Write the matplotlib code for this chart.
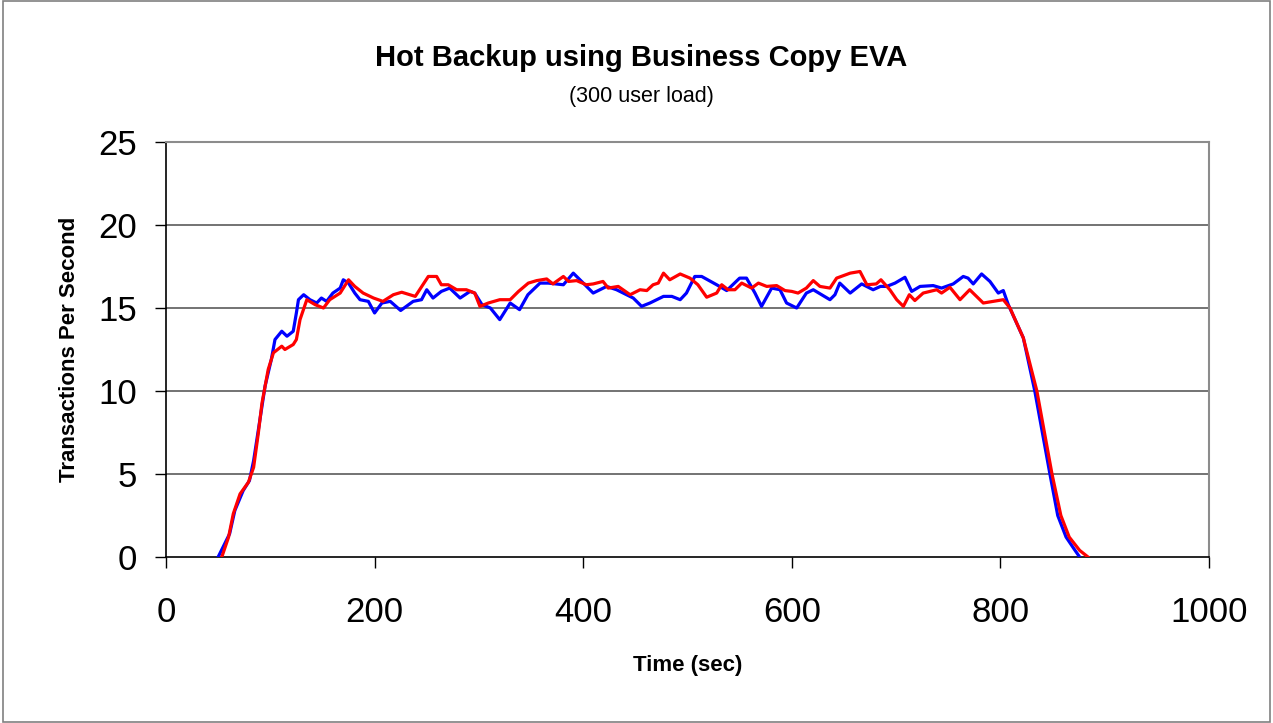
import matplotlib
matplotlib.use("Agg")
import matplotlib.pyplot as plt
from matplotlib.patches import Rectangle

plt.rcParams['font.family'] = ['Liberation Sans', 'DejaVu Sans']

# Blue run (time in sec, transactions per second)
blue_t = [50, 61, 66, 74, 80, 84, 90, 95, 101, 104.5, 111, 116, 122, 125, 127, 132,
          138, 144.5, 149, 154, 160, 167, 170, 175, 181, 186, 194, 200, 207, 215,
          225, 237, 245, 250, 256, 264, 272, 282, 291.5, 296, 303, 311, 320, 330,
          339, 347, 358.6, 366.5, 381, 390.5, 398.5, 409.6, 422.5, 432, 448, 456,
          464, 477, 485, 493, 499, 507, 513.6, 528, 537.6, 550, 556.6, 564.7, 571,
          580.7, 588.7, 595, 604.7, 614, 620.6, 628.6, 636.6, 641.4, 646, 656, 667,
          678, 685, 691, 699, 708.5, 715, 723, 735.6, 743.6, 754.8, 764.4, 769, 774,
          782, 790, 798, 802.8, 807.6, 822, 833, 847.5, 855, 863, 870.5, 876]
blue_tps = [0, 1.4, 2.8, 4.0, 4.6, 5.8, 8.25, 10.3, 11.9, 13.1, 13.6, 13.3, 13.6, 14.7,
            15.5, 15.8, 15.5, 15.3, 15.6, 15.4, 15.9, 16.2, 16.7, 16.5, 15.9, 15.5,
            15.4, 14.7, 15.3, 15.4, 14.85, 15.4, 15.5, 16.1, 15.6, 16.0, 16.2, 15.6,
            16.0, 15.9, 15.2, 15.0, 14.3, 15.3, 14.9, 15.8, 16.5, 16.5, 16.4, 17.1,
            16.6, 15.9, 16.3, 16.1, 15.6, 15.1, 15.3, 15.7, 15.7, 15.5, 15.9, 16.9,
            16.9, 16.4, 16.05, 16.8, 16.8, 15.9, 15.1, 16.2, 16.1, 15.3, 15.0, 15.9,
            16.1, 15.8, 15.5, 15.8, 16.5, 15.9, 16.45, 16.1, 16.3, 16.3, 16.5, 16.85,
            16.0, 16.3, 16.35, 16.2, 16.45, 16.9, 16.8, 16.45, 17.05, 16.6, 15.9,
            16.05, 15.2, 13.2, 10.0, 5.0, 2.5, 1.2, 0.5, 0]

# Red run
red_t = [53.5, 60, 64.5, 71, 79, 84, 88.5, 92, 98, 103, 111, 114, 122, 125, 128.5, 135,
         143, 151, 157, 167, 175, 181, 189, 199, 208, 218, 226, 239, 251.5, 259.5, 264,
         270.6, 278.7, 288, 296, 301, 309, 320, 330, 338, 347.4, 355.4, 365, 371, 381,
         386, 393.7, 403, 409.6, 419, 424, 433.6, 445, 454.5, 461, 467, 472, 477, 483,
         493, 502.4, 510, 518.4, 528, 532.8, 539, 545.5, 552, 561.5, 568, 576, 585.5,
         593.5, 600, 606, 614, 620.6, 627, 636.6, 643, 656, 665.4, 672, 681, 685.5,
         694, 700.6, 707, 712.7, 718, 726, 739, 743.6, 751.6, 761.3, 770.6, 783.6,
         793.2, 802.8, 809.2, 822, 835, 849.5, 858, 866, 876, 884]
red_tps = [0, 1.2, 2.6, 3.8, 4.5, 5.4, 7.45, 9.26, 11.3, 12.3, 12.7, 12.5, 12.8, 13.1,
           14.3, 15.5, 15.2, 15.0, 15.5, 15.9, 16.7, 16.3, 15.9, 15.6, 15.4, 15.8,
           15.95, 15.7, 16.9, 16.9, 16.4, 16.4, 16.1, 16.1, 15.9, 15.1, 15.3, 15.5,
           15.5, 16.0, 16.5, 16.65, 16.75, 16.45, 16.9, 16.6, 16.65, 16.4, 16.45, 16.6,
           16.2, 16.3, 15.8, 16.1, 16.05, 16.4, 16.5, 17.1, 16.7, 17.05, 16.8, 16.4,
           15.65, 15.9, 16.4, 16.1, 16.1, 16.5, 16.2, 16.5, 16.3, 16.35, 16.05, 16.0,
           15.9, 16.2, 16.65, 16.3, 16.2, 16.8, 17.1, 17.2, 16.4, 16.45, 16.7, 16.1,
           15.5, 15.1, 15.8, 15.45, 15.9, 16.1, 15.9, 16.25, 15.5, 16.1, 15.3, 15.4,
           15.5, 15.0, 13.2, 10.0, 5.0, 2.5, 1.2, 0.4, 0]

x_ticks = [0, 200, 400, 600, 800, 1000]
y_ticks = [0, 5, 10, 15, 20, 25]

fig = plt.figure(figsize=(12.73, 7.23), dpi=100)
ax = fig.add_axes([0.1304, 0.2296, 0.8193, 0.574])

# gridlines behind the curves
for yv in y_ticks[1:-1]:
    ax.axhline(yv, color='#4d4d4d', lw=1.1, zorder=1)

ax.plot(blue_t, blue_tps, color='#0000ff', lw=2.3, solid_joinstyle='round', zorder=3)
ax.plot(red_t, red_tps, color='#ff0000', lw=2.3, solid_joinstyle='round', zorder=4)

ax.set_xlim(0, 1000)
ax.set_ylim(0, 25)
ax.set_xticks(x_ticks)
ax.set_yticks(y_ticks)
ax.tick_params(axis='both', direction='out', length=8, width=1, labelsize=25)
ax.tick_params(axis='y', pad=13)
ax.tick_params(axis='x', pad=20)

for side in ['top', 'right']:
    ax.spines[side].set_color('#8c8c8c')
    ax.spines[side].set_linewidth(1.5)
for side in ['left', 'bottom']:
    ax.spines[side].set_color('black')
    ax.spines[side].set_linewidth(1.2)

ax.set_xlabel("Time (sec)", fontsize=16, fontweight='bold', labelpad=19)
ax.set_ylabel("Transactions Per Second", fontsize=16, fontweight='bold', labelpad=13)

fig.text(0.5035, 0.920, "Hot Backup using Business Copy EVA", ha='center', va='center',
         fontsize=21, fontweight='bold')
fig.text(0.5035, 0.866, "(300 user load)", ha='center', va='center', fontsize=15.5)

# outer chart border
fig.patches.append(Rectangle((0.002, 0.002), 0.996, 0.996, transform=fig.transFigure,
                             fill=False, edgecolor='#808080', lw=1.2))

plt.savefig("out.png", dpi=100)
